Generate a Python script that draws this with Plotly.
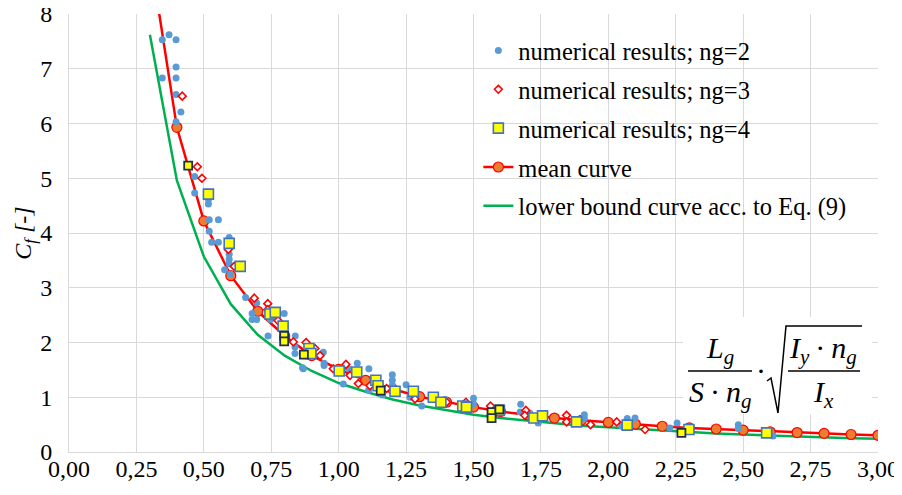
import plotly.graph_objects as go

# ---------------- data ----------------
x_ng2 = [0.346, 0.371, 0.397, 0.397, 0.346, 0.397, 0.397, 0.415, 0.397,
         0.466, 0.466, 0.517, 0.517, 0.520, 0.554, 0.520, 0.529, 0.554,
         0.594, 0.594, 0.594, 0.594, 0.577, 0.598, 0.655, 0.696, 0.679,
         0.679, 0.696, 0.747, 0.798, 0.738, 0.839, 0.838, 0.838, 0.866,
         0.869, 0.943, 0.946, 0.946, 1.017, 1.036, 1.069, 1.112, 1.111,
         1.162, 1.199, 1.199, 1.199, 1.250, 1.264, 1.308, 1.394, 1.500,
         1.500, 1.604, 1.675, 1.673, 1.709, 1.740, 1.911, 1.911, 2.050,
         2.070, 2.070, 2.099, 2.228, 2.255, 2.482, 2.482, 2.611]
y_ng2 = [7.53, 7.62, 7.53, 7.03, 6.83, 6.83, 6.53, 6.21, 6.03,
         5.03, 4.73, 4.61, 4.53, 4.24, 4.24, 4.03, 3.83, 3.83,
         3.92, 3.61, 3.52, 3.44, 3.33, 3.25, 2.82, 2.72, 2.53,
         2.42, 2.42, 2.42, 2.53, 2.12, 2.12, 1.92, 1.80, 1.54,
         1.52, 1.82, 1.62, 1.58, 1.24, 1.52, 1.62, 1.52, 1.13,
         1.04, 1.41, 1.31, 1.22, 1.23, 1.00, 0.84, 0.96, 0.98,
         0.88, 0.76, 0.87, 0.73, 0.71, 0.53, 0.68, 0.61, 0.47,
         0.61, 0.46, 0.62, 0.44, 0.53, 0.50, 0.43, 0.29]

x_ng3 = [0.420, 0.476, 0.493, 0.591, 0.613, 0.687, 0.737, 0.737, 0.775,
         0.832, 0.879, 0.912, 0.931, 0.980, 1.027, 1.042, 1.073, 1.116,
         1.178, 1.283, 1.400, 1.472, 1.563, 1.694, 1.690, 1.845, 1.845,
         1.934, 2.031, 2.136]
y_ng3 = [6.50, 5.21, 5.00, 3.70, 3.39, 2.81, 2.71, 2.60, 2.40,
         2.01, 2.00, 1.89, 1.76, 1.52, 1.60, 1.40, 1.25, 1.21,
         1.16, 0.97, 0.91, 0.91, 0.84, 0.76, 0.67, 0.67, 0.55,
         0.50, 0.55, 0.41]

x_ng4 = [0.517, 0.594, 0.635, 0.745, 0.765, 0.794, 0.890, 0.897, 1.002,
         1.067, 1.138, 1.146, 1.209, 1.277, 1.351, 1.379, 1.460, 1.474,
         1.596, 1.724, 1.756, 1.882, 2.070, 2.299, 2.587]
y_ng4 = [4.71, 3.81, 3.39, 2.52, 2.55, 2.30, 1.89, 1.80, 1.48,
         1.46, 1.31, 1.21, 1.11, 1.11, 1.00, 0.91, 0.84, 0.82,
         0.76, 0.62, 0.66, 0.55, 0.49, 0.41, 0.35]

x_ng4_dark = [0.442, 0.798, 0.798, 0.871, 1.156, 1.567, 1.567, 1.596, 2.271]
y_ng4_dark = [5.23, 2.12, 2.02, 1.78, 1.12, 0.73, 0.62, 0.78, 0.35]

x_mean = [0.3, 0.4, 0.5, 0.6, 0.7, 0.8, 0.9, 1.0, 1.1, 1.2, 1.3, 1.4, 1.5, 1.6,
          1.7, 1.8, 1.9, 2.0, 2.1, 2.2, 2.3, 2.4, 2.5, 2.6, 2.7, 2.8, 2.9, 3.0]
y_mean = [9.1, 5.93, 4.22, 3.22, 2.57, 2.12, 1.76, 1.51, 1.31, 1.15, 1.01, 0.91,
          0.82, 0.74, 0.68, 0.62, 0.58, 0.54, 0.51, 0.47, 0.44, 0.42, 0.40,
          0.37, 0.355, 0.34, 0.32, 0.305]

x_lower = [0.3, 0.4, 0.5, 0.6, 0.7, 0.8, 0.9, 1.0, 1.1, 1.2, 1.3, 1.4, 1.5, 1.6,
           1.7, 1.8, 1.9, 2.0, 2.1, 2.2, 2.3, 2.4, 2.5, 2.6, 2.7, 2.8, 2.9, 3.0]
y_lower = [7.62, 4.96, 3.57, 2.70, 2.14, 1.76, 1.48, 1.26, 1.10, 0.96, 0.85,
           0.76, 0.68, 0.62, 0.57, 0.52, 0.48, 0.45, 0.42, 0.39, 0.36, 0.34,
           0.32, 0.30, 0.28, 0.27, 0.25, 0.24]

x_ticks = [0, 0.25, 0.5, 0.75, 1.0, 1.25, 1.5, 1.75, 2.0, 2.25, 2.5, 2.75, 3.0]
y_ticks = [0, 1, 2, 3, 4, 5, 6, 7, 8]

legend_names = ["numerical results; ng=2", "numerical results; ng=3",
                "numerical results; ng=4", "mean curve",
                "lower bound curve acc. to Eq. (9)"]

# ---------------- figure ----------------
# the page body has an 8px margin, so the figure is shifted by 8px
W, H = 894, 487
ML, MR, MT, MB = 61, 24, 6, 43
PW, PH = W - ML - MR, H - MT - MB          # 809 x 438
PLOT_L, PLOT_B = 69, 452                   # plot area position on the page


def px(xp):
    return (xp - PLOT_L) / PW


def py(yp):
    return (PLOT_B - yp) / PH


FONT = '"Liberation Serif", "Times New Roman", Tinos, "DejaVu Serif", serif'

fig = go.Figure()

fig.add_trace(go.Scatter(
    x=x_lower, y=y_lower, mode="lines", name=legend_names[4],
    line=dict(color="#00B050", width=2.5), legendrank=5, legendgroup="e"))

fig.add_trace(go.Scatter(
    x=x_mean, y=y_mean, mode="lines+markers", name=legend_names[3],
    line=dict(color="#FF0000", width=2.5),
    marker=dict(color="#ED7D31", size=10, line=dict(color="#FF0000", width=1.2)),
    legendrank=4, legendgroup="d"))

fig.add_trace(go.Scatter(
    x=x_ng2, y=y_ng2, mode="markers", name=legend_names[0],
    marker=dict(color="#5B9BD5", size=7, symbol="circle"),
    legendrank=1, legendgroup="a"))

fig.add_trace(go.Scatter(
    x=x_ng3, y=y_ng3, mode="markers", name=legend_names[1],
    marker=dict(color="white", size=6, symbol="diamond",
                line=dict(color="#FF0000", width=1.6)),
    legendrank=2, legendgroup="b"))

fig.add_trace(go.Scatter(
    x=x_ng4, y=y_ng4, mode="markers", name=legend_names[2],
    marker=dict(color="#FFFF00", size=10, symbol="square",
                line=dict(color="#4472C4", width=1.6)),
    legendrank=3, legendgroup="c"))

fig.add_trace(go.Scatter(
    x=x_ng4_dark, y=y_ng4_dark, mode="markers", showlegend=False,
    marker=dict(color="#FFFF00", size=8, symbol="square",
                line=dict(color="#1F2F4F", width=1.8)),
    legendgroup="c"))

# formula box and drawing
shapes = [
    dict(type="rect", xref="paper", yref="paper", layer="above",
         x0=px(683), x1=px(872), y0=py(414), y1=py(317),
         fillcolor="white", line=dict(width=0)),
    dict(type="line", xref="paper", yref="paper", layer="above",
         x0=px(688), x1=px(752), y0=py(371), y1=py(371),
         line=dict(color="black", width=1.3)),
    dict(type="line", xref="paper", yref="paper", layer="above",
         x0=px(788), x1=px(860), y0=py(371), y1=py(371),
         line=dict(color="black", width=1.3)),
    dict(type="path", xref="paper", yref="paper", layer="above",
         path="M {:.5f},{:.5f} L {:.5f},{:.5f} L {:.5f},{:.5f} L {:.5f},{:.5f} L {:.5f},{:.5f}".format(
             px(767), py(381), px(771), py(378), px(778), py(413),
             px(786), py(326), px(862), py(326)),
         line=dict(color="black", width=1.5)),
]

fs = 30
annos = [
    dict(text="<i>L<sub>g</sub></i>", x=px(720), y=py(350)),
    dict(text="<i>S</i>\u2009·\u2009<i>n<sub>g</sub></i>", x=px(720), y=py(394)),
    dict(text="·", x=px(761), y=py(370)),
    dict(text="<i>I<sub>y</sub></i>\u2009·\u2009<i>n<sub>g</sub></i>", x=px(823), y=py(350)),
    dict(text="<i>I<sub>x</sub></i>", x=px(823), y=py(394)),
]
for a in annos:
    a.update(xref="paper", yref="paper", showarrow=False, xanchor="center",
             yanchor="middle", font=dict(family=FONT, size=fs, color="black"))

fig.update_layout(
    width=W, height=H,
    margin=dict(l=ML, r=MR, t=MT, b=MB, autoexpand=False),
    paper_bgcolor="white", plot_bgcolor="white",
    separators=", ",
    font=dict(family=FONT, size=24, color="black"),
    showlegend=True,
    legend=dict(x=0.506, y=0.968, xanchor="left", yanchor="top",
                bgcolor="rgba(0,0,0,0)", font=dict(family=FONT, size=24.5),
                tracegroupgap=4, traceorder="grouped"),
    shapes=shapes, annotations=annos,
    xaxis=dict(range=[0, 3], tickvals=x_ticks, tickformat=".2f",
               automargin=False, ticklabeloverflow="allow",
               showgrid=True, gridcolor="#D9D9D9", gridwidth=1,
               showline=True, linecolor="#D9D9D9", linewidth=1,
               zeroline=False, ticks="", ticklabelstandoff=-5,
               tickfont=dict(family=FONT, size=24)),
    yaxis=dict(range=[0, 8], tickvals=y_ticks, automargin=False,
               ticklabeloverflow="allow",
               showgrid=True, gridcolor="#D9D9D9", gridwidth=1,
               showline=True, linecolor="#D9D9D9", linewidth=1,
               zeroline=False, ticks="", ticklabelstandoff=11,
               tickfont=dict(family=FONT, size=24),
               title=dict(text="<i>C<sub>f</sub> [-]</i>", standoff=0,
                          font=dict(family=FONT, size=24))),
)

fig.write_html("out.html")
